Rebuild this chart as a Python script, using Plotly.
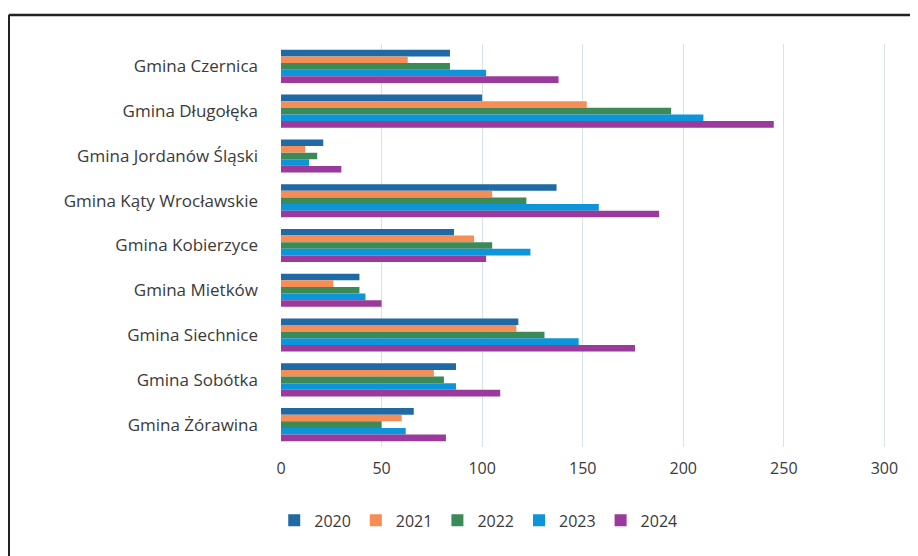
import plotly.graph_objects as go

# dane
gminy = ['Gmina Czernica', 'Gmina Długołęka', 'Gmina Jordanów Śląski', 'Gmina Kąty Wrocławskie',
         'Gmina Kobierzyce', 'Gmina Mietków', 'Gmina Siechnice', 'Gmina Sobótka', 'Gmina Żórawina']
lata = ['2020', '2021', '2022', '2023', '2024']
v2020 = [84, 100, 21, 137, 86, 39, 118, 87, 66]
v2021 = [63, 152, 12, 105, 96, 26, 117, 76, 60]
v2022 = [84, 194, 18, 122, 105, 39, 131, 81, 50]
v2023 = [102, 210, 14, 158, 124, 42, 148, 87, 62]
v2024 = [138, 245, 30, 188, 102, 50, 176, 109, 82]
kolory = ['#1f6aa5', '#f58d55', '#3c8a57', '#0d95da', '#9a3a9c']

fig = go.Figure()
for rok, wartosci, kolor in zip(lata, [v2020, v2021, v2022, v2023, v2024], kolory):
    fig.add_trace(go.Bar(
        y=gminy, x=wartosci, name=rok, orientation='h',
        marker=dict(color=kolor, line=dict(width=0))
    ))

fig.update_layout(
    barmode='group', bargap=0.26, bargroupgap=0,
    width=918, height=556,
    margin=dict(l=273, r=40, t=36, b=117),
    plot_bgcolor='white', paper_bgcolor='white',
    font=dict(family='Open Sans, Liberation Sans, sans-serif', size=16, color='#3a3a3a'),
    xaxis=dict(range=[0, 300.8], tickvals=[0, 50, 100, 150, 200, 250, 300], showgrid=True,
               gridcolor='#d6e4e8', gridwidth=1,
               zeroline=False, showline=False, ticks='', ticklabelstandoff=10,
               tickfont=dict(size=16)),
    yaxis=dict(autorange='reversed', showgrid=False, ticks='', ticklabelstandoff=22,
               tickfont=dict(size=17)),
    legend=dict(orientation='h', x=0.326, xanchor='center', y=-0.14, yanchor='top',
                font=dict(size=16), itemwidth=30, traceorder='normal'),
    showlegend=True,
)
# ramka wykresu (lewa i górna krawędź)
fig.add_shape(type='line', xref='paper', yref='paper', x0=-0.450, x1=1.1, y0=1.072, y1=1.072,
              line=dict(color='#222', width=2.5), layer='above')
fig.add_shape(type='line', xref='paper', yref='paper', x0=-0.450, x1=-0.450, y0=-0.35, y1=1.072,
              line=dict(color='#222', width=2.5), layer='above')

fig.write_html('out.html')
